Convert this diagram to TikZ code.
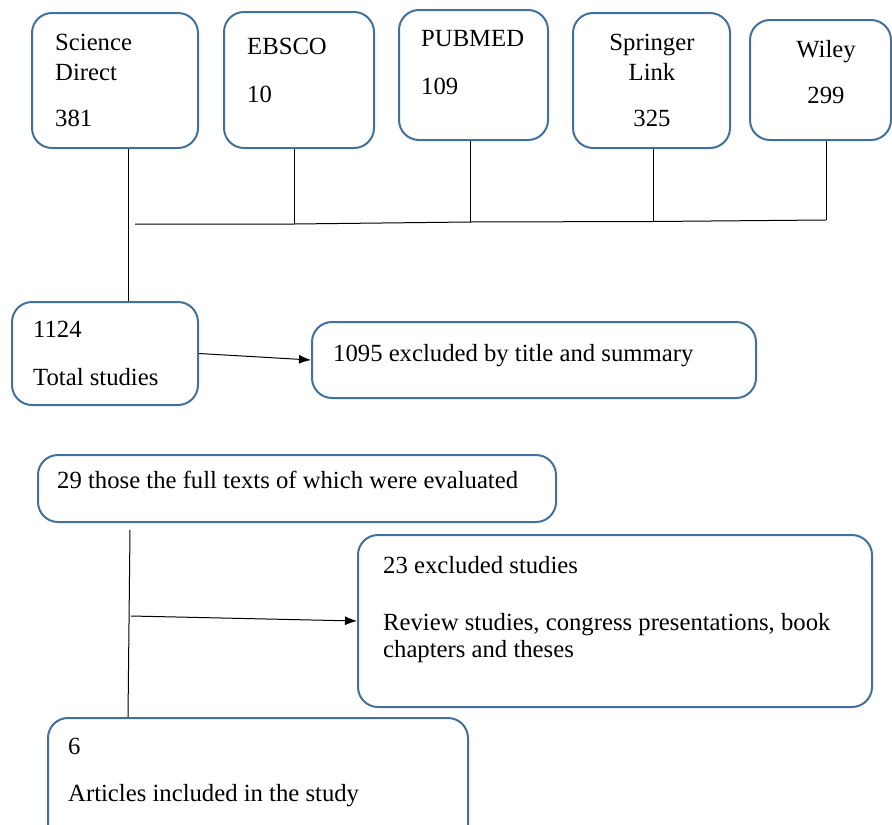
\documentclass[tikz,border=0pt]{standalone}
\usepackage{fontspec}
\setmainfont{Liberation Serif}
\usetikzlibrary{arrows.meta}
\definecolor{boxblue}{HTML}{41719C}
\tikzset{
 dbbox/.style={draw=boxblue, line width=2pt, rounded corners=20pt, inner sep=0pt},
 boxtext/.style={inner sep=0pt, align=left, anchor=north west, font=\fontsize{24.7pt}{30pt}\selectfont},
 link/.style={black, line width=1pt},
 arr/.style={link, -{Latex[length=12pt,width=9pt]}}
}
\begin{document}
\begin{tikzpicture}[x=1pt, y=-1pt]
\useasboundingbox (0,0) rectangle (892,825);
% source databases
\node[dbbox, minimum width=166pt, minimum height=135pt] (sd) at (115,80.5) {};
\node[dbbox, minimum width=150pt, minimum height=136pt] (ebsco) at (299,80) {};
\node[dbbox, minimum width=149pt, minimum height=130pt] (pubmed) at (473.5,75) {};
\node[dbbox, minimum width=157pt, minimum height=135pt] (springer) at (651.5,80.5) {};
\node[dbbox, minimum width=141pt, minimum height=120pt] (wiley) at (820.5,80) {};
\node[boxtext] (sdtxt) at (55,34) {Science\\Direct\\[16pt]381};
\node[boxtext] (ebscotxt) at (247,38) {EBSCO\\[18pt]10};
\node[boxtext] (pubmedtxt) at (421,30) {PUBMED\\[18pt]109};
\node[boxtext, anchor=north, align=center] (springertxt) at (652,34) {Springer\\Link\\[16pt]325};
\node[boxtext, anchor=north, align=center] (wileytxt) at (826,40) {Wiley\\[16pt]299};
% screening steps
\node[dbbox, minimum width=186pt, minimum height=103pt] (total) at (105,353.5) {};
\node[dbbox, minimum width=444pt, minimum height=76pt] (excl1) at (534,360) {};
\node[dbbox, minimum width=518pt, minimum height=67pt] (full) at (297,488.5) {};
\node[dbbox, minimum width=514pt, minimum height=172pt] (excl2) at (615,621) {};
\node[dbbox, minimum width=420pt, minimum height=152pt] (art) at (258,794) {};
\node[boxtext] (totaltxt) at (33,321) {1124\\[18pt]Total studies};
\node[boxtext] (excl1txt) at (333,344) {1095 excluded by title and summary};
\node[boxtext] (fulltxt) at (57,471) {29 those the full texts of which were evaluated};
\node[boxtext, font=\fontsize{24.7pt}{27pt}\selectfont] (excl2txt) at (383,556)
 {23 excluded studies\\[30pt]Review studies, congress presentations, book\\chapters and theses};
\node[boxtext] (arttxt) at (68,738) {6\\[17pt]Articles included in the study};
% connectors
\coordinate (busL) at (135,224);
\coordinate (jE) at (294,224);
\coordinate (jP) at (470,222);
\coordinate (jS) at (653,221.5);
\coordinate (busR) at (826,220);
\draw[link] (busL) -- (jE) -- (jP) -- (jS) -- (busR);
\foreach \b/\j in {ebsco/jE, pubmed/jP, springer/jS, wiley/busR} {
 \draw[link] (\b.south -| \j) -- (\j);
}
\draw[link] (sd.south -| 128,0) -- (total.north -| 128,0);
\draw[arr] (total.east) -- (excl1.west);
\coordinate (fullL) at (130,530);
\coordinate (jF) at (131,616);
\draw[link] (fullL) -- (art.north -| 128,0);
\draw[arr] (jF) -- (excl2.west);
\end{tikzpicture}
\end{document}
